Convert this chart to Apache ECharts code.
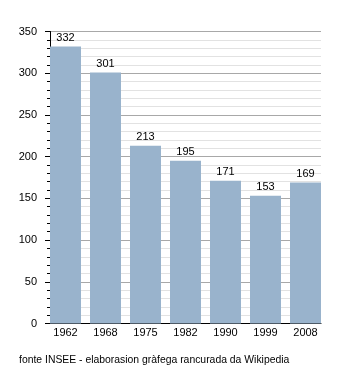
<!DOCTYPE html>
<html>
<head>
<meta charset="utf-8">
<script src="https://cdn.jsdelivr.net/npm/echarts@6/dist/echarts.min.js"></script>
<style>
  html, body { margin: 0; padding: 0; background: #fff; }
  #chart { width: 350px; height: 373px; }
</style>
</head>
<body>
<div id="chart"></div>
<script>
// Population by census year
const years = ['1962', '1968', '1975', '1982', '1990', '1999', '2008'];
const population = [332, 301, 213, 195, 171, 153, 169];
const sourceNote = 'fonte INSEE - elaborasion gràfega rancurada da Wikipedia';

const font = 'Liberation Sans, Arial, sans-serif';
const chart = echarts.init(document.getElementById('chart'), null, { renderer: 'canvas' });

chart.setOption({
  animation: false,
  backgroundColor: '#fff',
  grid: [
    // frame: y axis, grid lines and baseline
    { left: 50, width: 271, top: 31.5, bottom: 49.5 },
    // bars: widened band so outer bars sit flush with the frame
    { left: 45.5, width: 280, top: 31.5, bottom: 49.5 }
  ],
  xAxis: [
    {
      gridIndex: 0, type: 'category', data: years,
      axisLine: { show: true, lineStyle: { color: '#000', width: 1 } },
      axisTick: { show: false }, axisLabel: { show: false }
    },
    {
      gridIndex: 1, type: 'category', data: years,
      axisLine: { show: false }, axisTick: { show: false },
      axisLabel: { color: '#000', fontSize: 11, fontFamily: font, margin: 4 }
    }
  ],
  yAxis: [
    {
      gridIndex: 0, type: 'value', min: 0, max: 350, interval: 50,
      axisLine: { show: true, lineStyle: { color: '#000', width: 1 } },
      axisTick: { show: true, length: 5, lineStyle: { color: '#000' } },
      minorTick: { show: true, splitNumber: 5, length: 3, lineStyle: { color: '#000' } },
      splitLine: { show: true, lineStyle: { color: '#a8a8a8', width: 1 } },
      minorSplitLine: { show: true, lineStyle: { color: '#e2e2e2', width: 1 } },
      axisLabel: { color: '#000', fontSize: 11, fontFamily: font, margin: 13 }
    },
    {
      gridIndex: 1, type: 'value', min: 0, max: 350, show: false
    }
  ],
  series: [{
    type: 'bar',
    xAxisIndex: 1, yAxisIndex: 1,
    data: population,
    barWidth: 31,
    itemStyle: { color: '#99b3cc' },
    label: {
      show: true, position: 'top', distance: 3,
      color: '#000', fontSize: 11, fontFamily: font
    }
  }],
  graphic: [{
    type: 'text', left: 19, top: 355,
    style: { text: sourceNote, fill: '#000', fontSize: 10.4, fontFamily: font }
  }]
});
</script>
</body>
</html>
